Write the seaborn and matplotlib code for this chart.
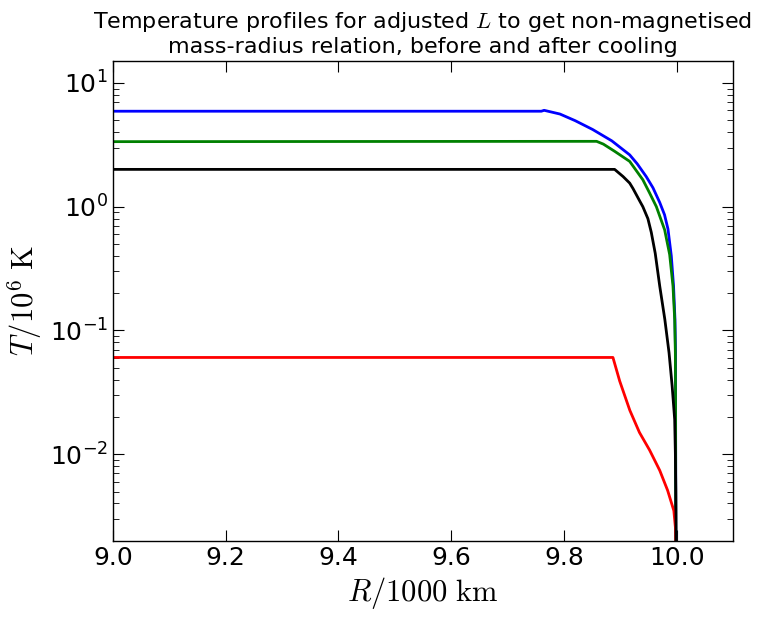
import matplotlib
matplotlib.use("Agg")
import matplotlib.pyplot as plt
import matplotlib.ticker as mticker
import seaborn as sns
import pandas as pd
import numpy as np

blue_r = [9.0, 9.76, 9.765, 9.793, 9.82, 9.851, 9.885, 9.9167, 9.93, 9.946,
          9.958, 9.970, 9.9785, 9.9846, 9.9905, 9.9945, 9.997, 9.998, 9.9985]
blue_t = [5.9, 5.9, 6.0, 5.6, 4.95, 4.2, 3.4, 2.62, 2.22, 1.75,
          1.42, 1.08, 0.86, 0.66, 0.4, 0.228, 0.123, 0.066, 0.002]
green_r = [9.0, 9.858, 9.87, 9.89, 9.9167, 9.94, 9.952, 9.964, 9.9787,
           9.9876, 9.9935, 9.9965, 9.9977, 9.998, 9.9985]
green_t = [3.35, 3.37, 3.2, 2.8, 2.32, 1.65, 1.29, 1.0, 0.65,
           0.41, 0.228, 0.123, 0.066, 0.03, 0.002]
red_r = [9.0, 9.887, 9.899, 9.917, 9.934, 9.952, 9.970, 9.984, 9.995, 9.998, 9.999]
red_t = [0.0605, 0.0605, 0.039, 0.0226, 0.015, 0.0108, 0.0074, 0.0051, 0.0035, 0.0025, 0.0015]
black_r = [9.0, 9.890, 9.905, 9.9167, 9.9226, 9.935, 9.940, 9.949, 9.955, 9.962,
           9.970, 9.979, 9.9865, 9.992, 9.9965, 9.9977, 9.9985, 9.999]
black_t = [2.0, 2.0, 1.75, 1.55, 1.40, 1.1, 1.0, 0.8, 0.62, 0.42,
           0.228, 0.123, 0.066, 0.0356, 0.0191, 0.0103, 0.005, 0.002]

series = [("blue", blue_r, blue_t, "#0000ff"),
          ("green", green_r, green_t, "#008000"),
          ("red", red_r, red_t, "#ff0000"),
          ("black", black_r, black_t, "#000000")]

plt.rcParams.update({
    "font.family": ["DejaVu Sans"],
    "xtick.direction": "in", "ytick.direction": "in",
    "xtick.top": True, "ytick.right": True,
    "xtick.major.size": 8, "ytick.major.size": 8,
    "xtick.minor.size": 4, "ytick.minor.size": 4,
    "mathtext.fontset": "dejavusans",
})

fig = plt.figure(figsize=(7.62, 6.23), dpi=100)
ax = fig.add_axes([0.148, 0.132, 0.814, 0.770])

for name, r, t, c in series:
    df = pd.DataFrame({"R": r, "T": t})
    sns.lineplot(data=df, x="R", y="T", ax=ax, color=c, linewidth=2,
                 sort=False, estimator=None)

ax.set_yscale("log")
ax.set_xlim(9.0, 10.1)
ax.set_ylim(0.002, 15)
ax.xaxis.set_major_locator(mticker.MultipleLocator(0.2))
ax.xaxis.set_major_formatter(mticker.FormatStrFormatter("%.1f"))
ax.yaxis.set_major_locator(mticker.LogLocator(base=10, numticks=10))
ax.yaxis.set_minor_locator(mticker.LogLocator(base=10, subs=np.arange(2, 10), numticks=10))
ax.yaxis.set_major_formatter(mticker.FuncFormatter(
    lambda v, p: "$10^{%d}$" % int(round(np.log10(v)))))
ax.tick_params(labelsize=18)
for s in ax.spines.values():
    s.set_linewidth(1.0)

ax.set_xlabel(r"$R/1000\ \mathrm{km}$", fontsize=22, math_fontfamily="cm")
ax.set_ylabel(r"$T/10^6\ \mathrm{K}$", fontsize=22, math_fontfamily="cm")
ax.set_title("Temperature profiles for adjusted $L$ to get non-magnetised\n"
             "mass-radius relation, before and after cooling",
             fontsize=16, math_fontfamily="cm")

fig.savefig("out.png", dpi=100)
